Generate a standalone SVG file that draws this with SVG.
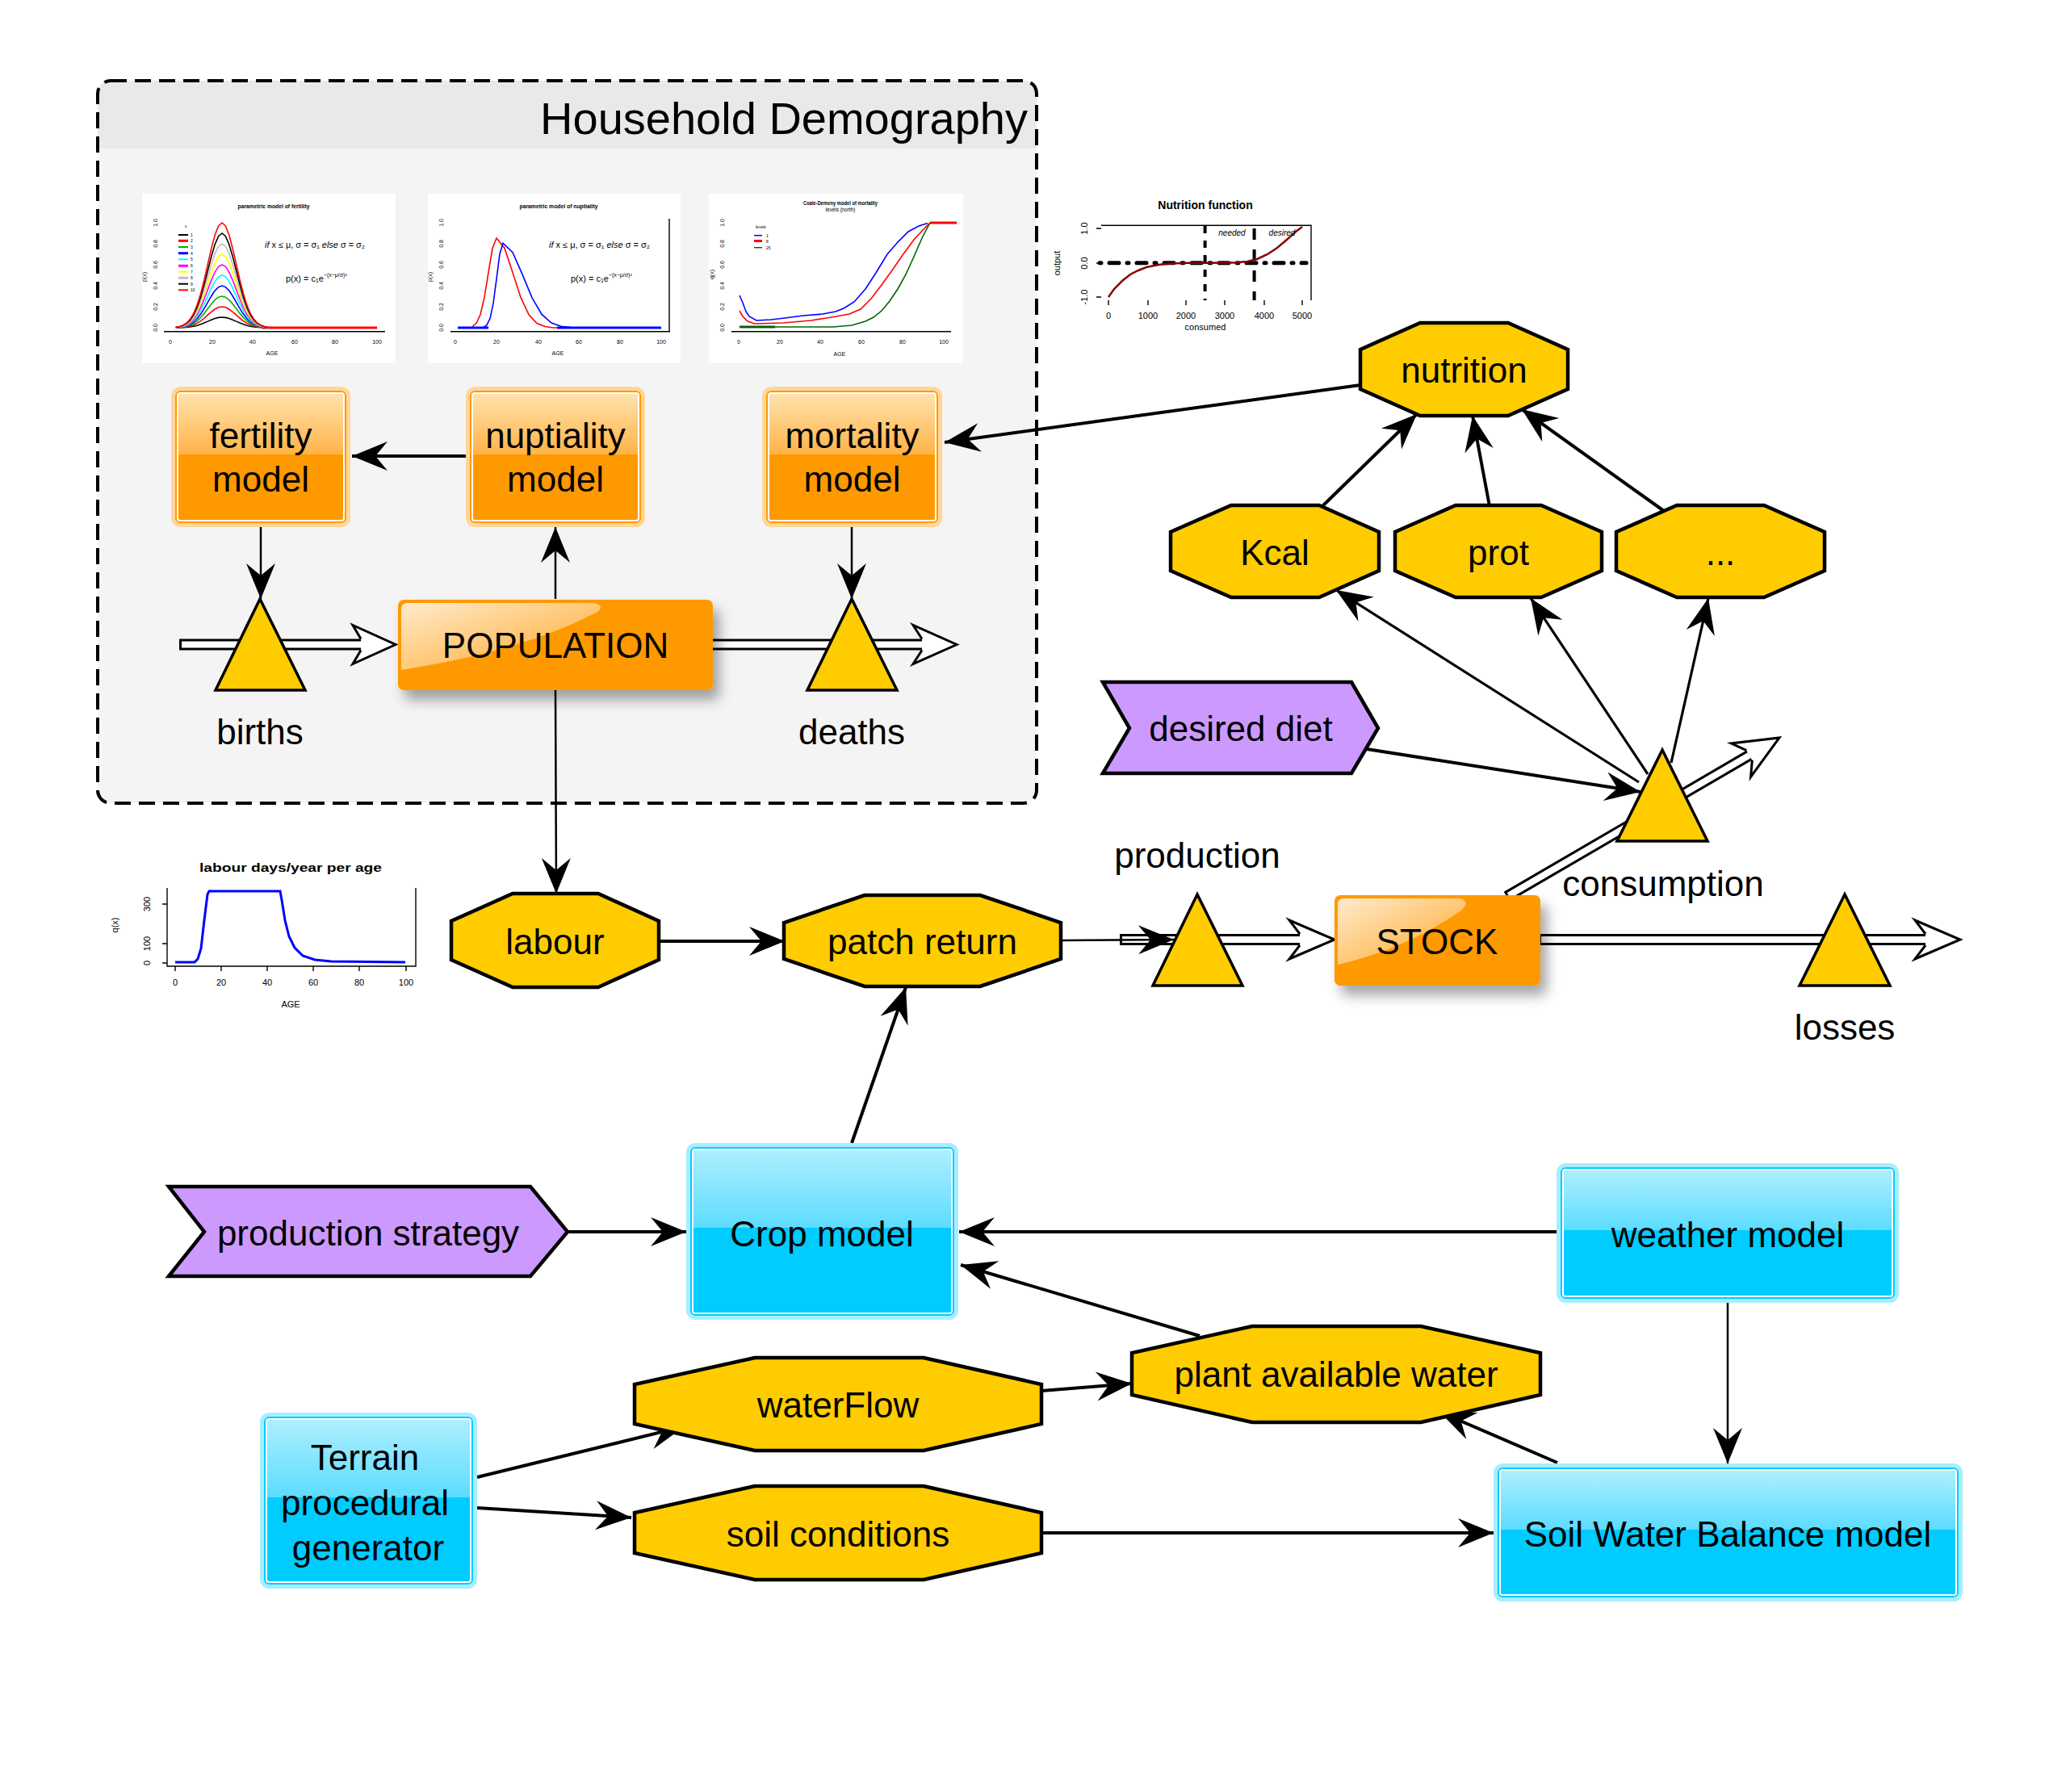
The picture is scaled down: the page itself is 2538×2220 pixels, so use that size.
<svg xmlns="http://www.w3.org/2000/svg" width="2538" height="2220" viewBox="0 0 2538 2220">
<style>
.t{font-family:'Liberation Sans',Arial,Helvetica,sans-serif;fill:#000}
.lbl{font-size:44px;text-anchor:middle}
.oct{fill:#FFCC00;stroke:#000;stroke-width:4.5;stroke-linejoin:miter}
.tri{fill:#FFCC00;stroke:#000;stroke-width:3.5;stroke-linejoin:miter}
.chev{fill:#CC99FF;stroke:#000;stroke-width:4.5;stroke-linejoin:miter}
.ln{fill:none;stroke:#000;stroke-width:4;marker-end:url(#ah)}
.ln3{fill:none;stroke:#000;stroke-width:3.2;marker-end:url(#ah)}
.ln2{fill:none;stroke:#000;stroke-width:2.5;marker-end:url(#ah)}
.po{fill:none;stroke:#000;stroke-width:14}
.pi{fill:none;stroke:#fff;stroke-width:8}
.ha{fill:#fff;stroke:#000;stroke-width:3;stroke-linejoin:miter}
.obo{fill:#FF9900;stroke:#FFD699;stroke-width:5}
.obi{fill:url(#gOr);stroke:#fff;stroke-width:2}
.bbo{fill:#00CCFF;stroke:#A6EEFF;stroke-width:5}
.bbi{fill:url(#gBl);stroke:#fff;stroke-width:2}
.ax{fill:none;stroke:#000;stroke-width:1.4}
.ct{font-size:7px;text-anchor:middle}
.ck{font-size:11px;text-anchor:middle}
</style>
<defs>
<linearGradient id="gOr" x1="0" y1="0" x2="0" y2="1">
<stop offset="0" stop-color="#FFE3AE"/><stop offset="0.48" stop-color="#FFB347"/><stop offset="0.48" stop-color="#FF9900"/><stop offset="1" stop-color="#FF9900"/>
</linearGradient>
<linearGradient id="gBl" x1="0" y1="0" x2="0" y2="1">
<stop offset="0" stop-color="#AEEFFF"/><stop offset="0.48" stop-color="#5CDCFF"/><stop offset="0.48" stop-color="#00CCFF"/><stop offset="1" stop-color="#00CCFF"/>
</linearGradient>
<linearGradient id="gHl" x1="0" y1="0" x2="1" y2="1">
<stop offset="0" stop-color="#fff" stop-opacity="0.8"/><stop offset="1" stop-color="#fff" stop-opacity="0.15"/>
</linearGradient>
<filter id="sh" x="-20%" y="-20%" width="150%" height="160%">
<feDropShadow dx="8" dy="12" stdDeviation="8" flood-color="#000" flood-opacity="0.35"/>
</filter>
<marker id="ah" viewBox="-46 -20 48 40" markerWidth="48" markerHeight="40" refX="0" refY="0" orient="auto" markerUnits="userSpaceOnUse">
<path d="M0,0 L-44,-18 L-29,0 L-44,18 Z" fill="#000"/>
</marker>
<path id="gauss" vector-effect="non-scaling-stroke" d="M-52,-0.005 L-48,-0.011 L-44,-0.023 L-40,-0.044 L-36,-0.080 L-32,-0.135 L-28,-0.216 L-24,-0.325 L-20,-0.458 L-16,-0.607 L-12,-0.755 L-8,-0.883 L-4,-0.969 L0,-1 L4,-0.969 L8,-0.883 L12,-0.755 L16,-0.607 L20,-0.458 L24,-0.325 L28,-0.216 L32,-0.135 L36,-0.080 L40,-0.044 L44,-0.023 L48,-0.011 L52,-0.005" fill="none"/>
</defs>
<rect width="2538" height="2220" fill="#fff"/>

<!-- Household Demography frame -->
<g id="household-demography">
<rect x="121" y="100" width="1163" height="895" rx="16" fill="#F4F4F4"/>
<path d="M121,184 V116 Q121,100 137,100 H1268 Q1284,100 1284,116 V184 Z" fill="#E9E9E9"/>
<rect x="121" y="100" width="1163" height="895" rx="16" fill="none" stroke="#000" stroke-width="4" stroke-dasharray="20 10"/>
<text class="t" x="1273" y="166" font-size="56" text-anchor="end">Household Demography</text>
</g>

<!-- charts -->
<g id="chart-fertility" class="t">
<rect x="176" y="240" width="314" height="210" fill="#fff"/>
<text class="ct" x="339" y="258" font-weight="bold" textLength="89" lengthAdjust="spacingAndGlyphs">parametric model of fertility</text>
<path class="ax" d="M203,410.7 H477"/>
<g class="ct" font-size="6">
<text x="211" y="426">0</text><text x="263" y="426">20</text><text x="313" y="426">40</text><text x="365" y="426">60</text><text x="415" y="426">80</text><text x="467" y="426">100</text>
<text x="337" y="440">AGE</text>
<text transform="translate(195,406) rotate(-90)">0.0</text><text transform="translate(195,380) rotate(-90)">0.2</text><text transform="translate(195,354) rotate(-90)">0.4</text><text transform="translate(195,328) rotate(-90)">0.6</text><text transform="translate(195,302) rotate(-90)">0.8</text><text transform="translate(195,276) rotate(-90)">1.0</text>
<text transform="translate(181,343) rotate(-90)">p(x)</text>
</g>
<path d="M325,406 H467" stroke="#FF0000" stroke-width="3"/>
<g fill="none" stroke-width="1.6">
<use href="#gauss" transform="translate(275,406) scale(1.1,13)" stroke="#000"/>
<use href="#gauss" transform="translate(275,406) scale(1.1,26)" stroke="#FF0000"/>
<use href="#gauss" transform="translate(275,406) scale(1.1,39)" stroke="#00B000"/>
<use href="#gauss" transform="translate(275,406) scale(1.1,52)" stroke="#0000FF"/>
<use href="#gauss" transform="translate(275,406) scale(1.1,65)" stroke="#00FFFF"/>
<use href="#gauss" transform="translate(275,406) scale(1.1,78)" stroke="#FF00FF"/>
<use href="#gauss" transform="translate(275,406) scale(1.1,91)" stroke="#FFFF00"/>
<use href="#gauss" transform="translate(275,406) scale(1.1,104)" stroke="#BEBEBE"/>
<use href="#gauss" transform="translate(275,406) scale(1.1,117)" stroke="#000"/>
<use href="#gauss" transform="translate(275,406) scale(1.1,130)" stroke="#FF0000"/>
</g>
<g stroke-width="2">
<path d="M221,291 h12" stroke="#000"/><path d="M221,298.3 h12" stroke="#FF0000" stroke-width="3"/><path d="M221,306 h12" stroke="#00B000"/><path d="M221,313.7 h12" stroke="#0000FF" stroke-width="3"/><path d="M221,321.3 h12" stroke="#00FFFF"/><path d="M221,329.3 h12" stroke="#FF00FF" stroke-width="3"/><path d="M221,336.7 h12" stroke="#FFFF00"/><path d="M221,344.3 h12" stroke="#BEBEBE" stroke-width="3"/><path d="M221,351.7 h12" stroke="#000"/><path d="M221,359.3 h12" stroke="#FF0000"/>
</g>
<g font-size="5">
<text x="229" y="282">c</text>
<text x="236" y="293">1</text><text x="236" y="300">2</text><text x="236" y="308">3</text><text x="236" y="315.5">4</text><text x="236" y="323">5</text><text x="236" y="331">6</text><text x="236" y="338.5">7</text><text x="236" y="346">8</text><text x="236" y="353.5">9</text><text x="236" y="361">10</text>
</g>
<text x="328" y="307" font-size="10" textLength="124" lengthAdjust="spacingAndGlyphs"><tspan font-style="italic">if</tspan> x ≤ μ, σ = σ₁ <tspan font-style="italic">else</tspan> σ = σ₂</text>
<text x="354" y="349" font-size="11">p(x) = c₁e<tspan dy="-6" font-size="7">−(x−μ/σ)²</tspan></text>
</g>

<g id="chart-nuptiality" class="t">
<rect x="530" y="240" width="313" height="210" fill="#fff"/>
<text class="ct" x="692" y="258" font-weight="bold" textLength="97" lengthAdjust="spacingAndGlyphs">parametric model of nuptiality</text>
<path class="ax" d="M558,410.7 H830 M829,271 V410.7"/>
<g class="ct" font-size="6">
<text x="564" y="426">0</text><text x="615" y="426">20</text><text x="667" y="426">40</text><text x="717" y="426">60</text><text x="768" y="426">80</text><text x="819" y="426">100</text>
<text x="691" y="440">AGE</text>
<text transform="translate(549,406) rotate(-90)">0.0</text><text transform="translate(549,380) rotate(-90)">0.2</text><text transform="translate(549,354) rotate(-90)">0.4</text><text transform="translate(549,328) rotate(-90)">0.6</text><text transform="translate(549,302) rotate(-90)">0.8</text><text transform="translate(549,276) rotate(-90)">1.0</text>
<text transform="translate(535,343) rotate(-90)">p(x)</text>
</g>
<path d="M585,404.5 L590,400.5 L595,389.8 L600,368.4 L605,337.4 L610,307.5 L615,295 L625,307.5 L635,337.4 L645,368.4 L655,389.8 L665,400.5 L675,404.5 L685,406 L695,406" fill="none" stroke="#FF0000" stroke-width="1.6"/>
<path d="M567,406 H605" stroke="#0000FF" stroke-width="3"/>
<path d="M599,405.3 L603,402.7 L607,394.6 L611,375.9 L615,345.7 L619,314.7 L623,301.2 L635,312.6 L647,339.9 L659,368.8 L671,389.4 L683,400.1 L695,404.3 L707,405.6" fill="none" stroke="#0000FF" stroke-width="1.6"/>
<path d="M690,406 H819" stroke="#0000FF" stroke-width="3"/>
<text x="680" y="307" font-size="10" textLength="125" lengthAdjust="spacingAndGlyphs"><tspan font-style="italic">if</tspan> x ≤ μ, σ = σ₁ <tspan font-style="italic">else</tspan> σ = σ₂</text>
<text x="707" y="349" font-size="11">p(x) = c₁e<tspan dy="-6" font-size="7">−(x−μ/σ)²</tspan></text>
</g>

<g id="chart-mortality" class="t">
<rect x="878" y="240" width="315" height="210" fill="#fff"/>
<text class="ct" x="1041" y="254" font-weight="bold" textLength="92" lengthAdjust="spacingAndGlyphs">Coale-Demeny model of mortality</text>
<text class="ct" x="1041" y="262" textLength="37" lengthAdjust="spacingAndGlyphs">levels (north)</text>
<path class="ax" d="M906,410.7 H1178"/>
<g class="ct" font-size="6">
<text x="915" y="426">0</text><text x="966" y="426">20</text><text x="1016" y="426">40</text><text x="1067" y="426">60</text><text x="1118" y="426">80</text><text x="1169" y="426">100</text>
<text transform="translate(897,406) rotate(-90)">0.0</text><text transform="translate(897,380) rotate(-90)">0.2</text><text transform="translate(897,354) rotate(-90)">0.4</text><text transform="translate(897,328) rotate(-90)">0.6</text><text transform="translate(897,302) rotate(-90)">0.8</text><text transform="translate(897,276) rotate(-90)">1.0</text>
</g>
<text class="ct" x="1040" y="441" font-size="9">AGE</text>
<text class="ct" transform="translate(884,340) rotate(-90)" font-size="8">q(x)</text>
<path d="M916,366 L920,375 L924,386 L928,392 L937,397 L955,396 L972,394 L995,391 L1019,389 L1035,386 L1045,382 L1058,374 L1072,358 L1085,338 L1099,315 L1112,300 L1125,287 L1138,280 L1149,276.5" fill="none" stroke="#0000FF" stroke-width="1.6"/>
<path d="M916,385 L920,392 L926,398 L935,401 L970,400 L1005,397 L1030,393 L1052,389 L1066,383 L1079,370 L1092,353 L1105,335 L1118,316 L1132,297 L1143,285 L1152,276" fill="none" stroke="#FF0000" stroke-width="1.6"/>
<path d="M1152,276 H1185" stroke="#FF0000" stroke-width="3"/>
<path d="M916,405 L1032,405 L1055,403 L1072,398 L1082,393 L1092,385 L1102,373 L1112,358 L1122,340 L1132,318 L1142,295 L1152,276" fill="none" stroke="#006400" stroke-width="1.6"/>
<path d="M916,405 H960" stroke="#006400" stroke-width="3"/>
<path d="M934,291.7 h10" stroke="#0000FF" stroke-width="1.5"/><path d="M934,298.5 h10" stroke="#FF0000" stroke-width="3"/><path d="M934,306.7 h10" stroke="#006400" stroke-width="1.5"/>
<g font-size="5">
<text x="936" y="283">levels</text><text x="949" y="293.5">1</text><text x="949" y="300.5">8</text><text x="949" y="308.5">25</text>
</g>
</g>

<g id="chart-nutrition" class="t">
<text x="1493" y="259" font-size="14" font-weight="bold" text-anchor="middle">Nutrition function</text>
<path class="ax" d="M1364,279.3 H1624 V372"/>
<path class="ax" d="M1358,283 h6 M1358,326 h6 M1358,368 h6 M1373,372 v6 M1422,372 v6 M1469,372 v6 M1517,372 v6 M1566,372 v6 M1613,372 v6"/>
<g class="ck">
<text transform="translate(1347,283) rotate(-90)">1.0</text><text transform="translate(1347,326) rotate(-90)">0.0</text><text transform="translate(1347,368) rotate(-90)">-1.0</text>
<text transform="translate(1313,326) rotate(-90)">output</text>
<text x="1373" y="395">0</text><text x="1422" y="395">1000</text><text x="1469" y="395">2000</text><text x="1517" y="395">3000</text><text x="1566" y="395">4000</text><text x="1613" y="395">5000</text>
<text x="1493" y="409">consumed</text>
</g>
<path d="M1362,325.7 H1618" stroke="#000" stroke-width="5" stroke-dasharray="2 10 12 10" stroke-linecap="round"/>
<path d="M1492.6,280 V372" stroke="#000" stroke-width="4" stroke-dasharray="9 9"/>
<path d="M1553.6,283 V372" stroke="#000" stroke-width="4" stroke-dasharray="14 12"/>
<path d="M1373,368 L1380,358 L1390,348 L1400,340 L1410,335 L1420,331 L1435,328 L1450,326.5 L1470,325.8 L1500,325.7 L1530,325.3 L1545,324 L1557,321 L1570,315 L1582,307 L1595,296 L1605,287 L1613,281" fill="none" stroke="#8B0000" stroke-width="2.5"/>
<text x="1526" y="292" font-size="10" font-style="italic" text-anchor="middle">needed</text>
<text x="1588" y="292" font-size="10" font-style="italic" text-anchor="middle">desired</text>
</g>

<g id="chart-labour" class="t">
<text x="360" y="1080" font-size="14" font-weight="bold" text-anchor="middle" textLength="226" lengthAdjust="spacingAndGlyphs">labour days/year per age</text>
<path class="ax" d="M207,1100 V1197 H515 V1100"/>
<path class="ax" d="M201,1193 h6 M201,1169 h6 M201,1120 h6 M217,1197 v6 M274,1197 v6 M331,1197 v6 M388,1197 v6 M445,1197 v6 M503,1197 v6"/>
<g class="ck" font-size="12">
<text x="217" y="1221">0</text><text x="274" y="1221">20</text><text x="331" y="1221">40</text><text x="388" y="1221">60</text><text x="445" y="1221">80</text><text x="503" y="1221">100</text>
<text x="360" y="1248">AGE</text>
<text transform="translate(186,1193) rotate(-90)">0</text><text transform="translate(186,1169) rotate(-90)">100</text><text transform="translate(186,1120) rotate(-90)">300</text>
<text transform="translate(146,1146) rotate(-90)">q(x)</text>
</g>
<path d="M217,1192 L241,1192 L245,1188 L249,1175 L253,1140 L257,1108 L259,1104 L347,1104 L349,1115 L353,1140 L358,1160 L365,1174 L375,1184 L390,1189 L410,1191 L502,1192" fill="none" stroke="#0000FF" stroke-width="3"/>
</g>

<!-- connectors -->
<g id="connectors">
<g id="flow-births" transform="translate(490,798.5)">
<path class="po" d="M-268,0 H-43"/><path class="pi" d="M-265,0 H-43"/>
<path class="ha" d="M-43,-7 L-53,-24 L0,0 L-53,24 L-43,7"/>
</g>
<g id="flow-deaths" transform="translate(1185,798.5)">
<path class="po" d="M-305,0 H-43"/><path class="pi" d="M-302,0 H-43"/>
<path class="ha" d="M-43,-7 L-54,-24 L0,0 L-54,24 L-43,7"/>
</g>
<g id="flow-production" transform="translate(1653,1164)">
<path class="po" d="M-266,0 H-43"/><path class="pi" d="M-263,0 H-43"/>
<path class="ha" d="M-43,-7 L-56,-24 L0,0 L-56,24 L-43,7"/>
</g>
<g id="flow-losses" transform="translate(2428,1164)">
<path class="po" d="M-522,0 H-43"/><path class="pi" d="M-519,0 H-43"/>
<path class="ha" d="M-43,-7 L-56,-24 L0,0 L-56,24 L-43,7"/>
</g>
<g id="flow-consumption" transform="translate(2204,914) rotate(-30.24)">
<path class="po" d="M-391,0 H-43"/><path class="pi" d="M-388,0 H-43"/>
<path class="ha" d="M-43,-7 L-55,-24 L0,0 L-55,24 L-43,7"/>
</g>
<path class="ln" d="M577,565 L436,565"/>
<path class="ln2" d="M323,653 L323,742"/>
<path class="ln2" d="M688,742 L688,653"/>
<path class="ln2" d="M1055,653 L1055,742"/>
<path class="ln2" d="M688,855 L689,1107"/>
<path class="ln" d="M1685,477 L1170,548"/>
<path class="ln" d="M1638,627 L1755,513"/>
<path class="ln" d="M1845,627 L1824,515"/>
<path class="ln" d="M2061,633 L1885,507"/>
<path class="ln3" d="M2030,969 L1655,731"/>
<path class="ln3" d="M2041,959 L1896,741"/>
<path class="ln3" d="M2070,945 L2116,741"/>
<path class="ln" d="M1693,928 L2032,981"/>
<path class="ln" d="M816,1166 L972,1166"/>
<path class="ln2" d="M1314,1165 L1454,1164"/>
<path class="ln" d="M1055,1416 L1122,1223"/>
<path class="ln" d="M704,1526 L850,1526"/>
<path class="ln" d="M1928,1526 L1188,1526"/>
<path class="ln" d="M1486,1655 L1190,1567"/>
<path class="ln" d="M1290,1723 L1402,1714"/>
<path class="ln" d="M591,1830 L848,1767"/>
<path class="ln" d="M591,1868 L782,1880"/>
<path class="ln" d="M1290,1899 L1850,1899"/>
<path class="ln2" d="M2140,1614 L2140,1813"/>
<path class="ln" d="M1929,1812 L1783,1749"/>
</g>

<!-- nodes -->
<g id="fertility-model" class="t">
<rect class="obo" x="214.5" y="481.5" width="217" height="169" rx="9"/>
<rect class="obi" x="220" y="487" width="206" height="158" rx="3"/>
<text class="lbl" x="323" y="555">fertility</text><text class="lbl" x="323" y="609">model</text>
</g>
<g id="nuptiality-model" class="t">
<rect class="obo" x="579.5" y="481.5" width="217" height="169" rx="9"/>
<rect class="obi" x="585" y="487" width="206" height="158" rx="3"/>
<text class="lbl" x="688" y="555">nuptiality</text><text class="lbl" x="688" y="609">model</text>
</g>
<g id="mortality-model" class="t">
<rect class="obo" x="946.5" y="481.5" width="218" height="169" rx="9"/>
<rect class="obi" x="952" y="487" width="207" height="158" rx="3"/>
<text class="lbl" x="1055.5" y="555">mortality</text><text class="lbl" x="1055.5" y="609">model</text>
</g>
<g id="population" class="t">
<rect x="493" y="743" width="390" height="112" rx="7" fill="#FF9900" filter="url(#sh)"/>
<path d="M497,755 Q497,747 505,747 L735,747 Q750,750 740,758 Q650,806 497,830 Z" fill="url(#gHl)"/>
<text class="lbl" x="688" y="815">POPULATION</text>
</g>
<g id="births" class="t">
<polygon class="tri" points="322,742 267,855 378,855"/>
<text class="lbl" x="322" y="922">births</text>
</g>
<g id="deaths" class="t">
<polygon class="tri" points="1055,742 1000,855 1111,855"/>
<text class="lbl" x="1055" y="922">deaths</text>
</g>
<g id="nutrition" class="t">
<polygon class="oct" points="1759,400 1868,400 1942,433 1942,482 1868,515 1759,515 1685,482 1685,433"/>
<text class="lbl" x="1813.5" y="474">nutrition</text>
</g>
<g id="kcal" class="t">
<polygon class="oct" points="1525,626 1634,626 1708,659 1708,707 1634,740 1525,740 1450,707 1450,659"/>
<text class="lbl" x="1579" y="700">Kcal</text>
</g>
<g id="prot" class="t">
<polygon class="oct" points="1803,626 1909,626 1984,659 1984,707 1909,740 1803,740 1728,707 1728,659"/>
<text class="lbl" x="1856" y="700">prot</text>
</g>
<g id="other-nutrients" class="t">
<polygon class="oct" points="2077,626 2185,626 2260,659 2260,707 2185,740 2077,740 2002,707 2002,659"/>
<text class="lbl" x="2131" y="700">...</text>
</g>
<g id="desired-diet" class="t">
<polygon class="chev" points="1366,845 1674,845 1707,902 1674,958 1366,958 1399,902"/>
<text class="lbl" x="1537" y="918">desired diet</text>
</g>
<g id="consumption" class="t">
<polygon class="tri" points="2059,929 2003,1042 2115,1042"/>
<text class="lbl" x="2060" y="1110">consumption</text>
</g>
<g id="production" class="t">
<polygon class="tri" points="1483,1108 1428,1221 1539,1221"/>
<text class="lbl" x="1483" y="1075">production</text>
</g>
<g id="stock" class="t">
<rect x="1653" y="1109" width="255" height="112" rx="7" fill="#FF9900" filter="url(#sh)"/>
<path d="M1657,1120 Q1657,1113 1665,1113 L1808,1113 Q1822,1116 1810,1128 Q1740,1176 1657,1195 Z" fill="url(#gHl)"/>
<text class="lbl" x="1780" y="1182">STOCK</text>
</g>
<g id="losses" class="t">
<polygon class="tri" points="2285,1108 2229,1221 2341,1221"/>
<text class="lbl" x="2285" y="1288">losses</text>
</g>
<g id="labour" class="t">
<polygon class="oct" points="635,1107 741,1107 816,1141 816,1189 741,1223 635,1223 559,1189 559,1141"/>
<text class="lbl" x="687.5" y="1182">labour</text>
</g>
<g id="patch-return" class="t">
<polygon class="oct" points="1071,1109 1214,1109 1314,1143 1314,1188 1214,1222 1071,1222 971,1188 971,1143"/>
<text class="lbl" x="1142.5" y="1182">patch return</text>
</g>
<g id="production-strategy" class="t">
<polygon class="chev" points="209,1470 657,1470 703,1526 657,1581 209,1581 253,1526"/>
<text class="lbl" x="456" y="1543">production strategy</text>
</g>
<g id="crop-model" class="t">
<rect class="bbo" x="852.5" y="1418.5" width="332" height="214" rx="9"/>
<rect class="bbi" x="858" y="1424" width="321" height="203" rx="3"/>
<text class="lbl" x="1018" y="1544">Crop model</text>
</g>
<g id="weather-model" class="t">
<rect class="bbo" x="1930.5" y="1443.5" width="419" height="168" rx="9"/>
<rect class="bbi" x="1936" y="1449" width="408" height="157" rx="3"/>
<text class="lbl" x="2140" y="1545">weather model</text>
</g>
<g id="plant-available-water" class="t">
<polygon class="oct" points="1551,1643 1760,1643 1908,1676 1908,1728 1760,1762 1551,1762 1402,1728 1402,1676"/>
<text class="lbl" x="1655" y="1718">plant available water</text>
</g>
<g id="waterflow" class="t">
<polygon class="oct" points="935,1682 1144,1682 1290,1715 1290,1764 1144,1797 935,1797 786,1764 786,1715"/>
<text class="lbl" x="1038" y="1756">waterFlow</text>
</g>
<g id="soil-conditions" class="t">
<polygon class="oct" points="935,1841 1144,1841 1290,1874 1290,1924 1144,1957 935,1957 786,1924 786,1874"/>
<text class="lbl" x="1038" y="1916">soil conditions</text>
</g>
<g id="terrain-generator" class="t">
<rect class="bbo" x="324.5" y="1752.5" width="264" height="213" rx="9"/>
<rect class="bbi" x="330" y="1758" width="253" height="202" rx="3"/>
<text class="lbl" x="452" y="1821">Terrain</text><text class="lbl" x="452" y="1877">procedural</text><text class="lbl" x="456" y="1933">generator</text>
</g>
<g id="soil-water-balance-model" class="t">
<rect class="bbo" x="1852.5" y="1815.5" width="576" height="166" rx="9"/>
<rect class="bbi" x="1858" y="1821" width="565" height="155" rx="3"/>
<text class="lbl" x="2140" y="1916">Soil Water Balance model</text>
</g>
</svg>
